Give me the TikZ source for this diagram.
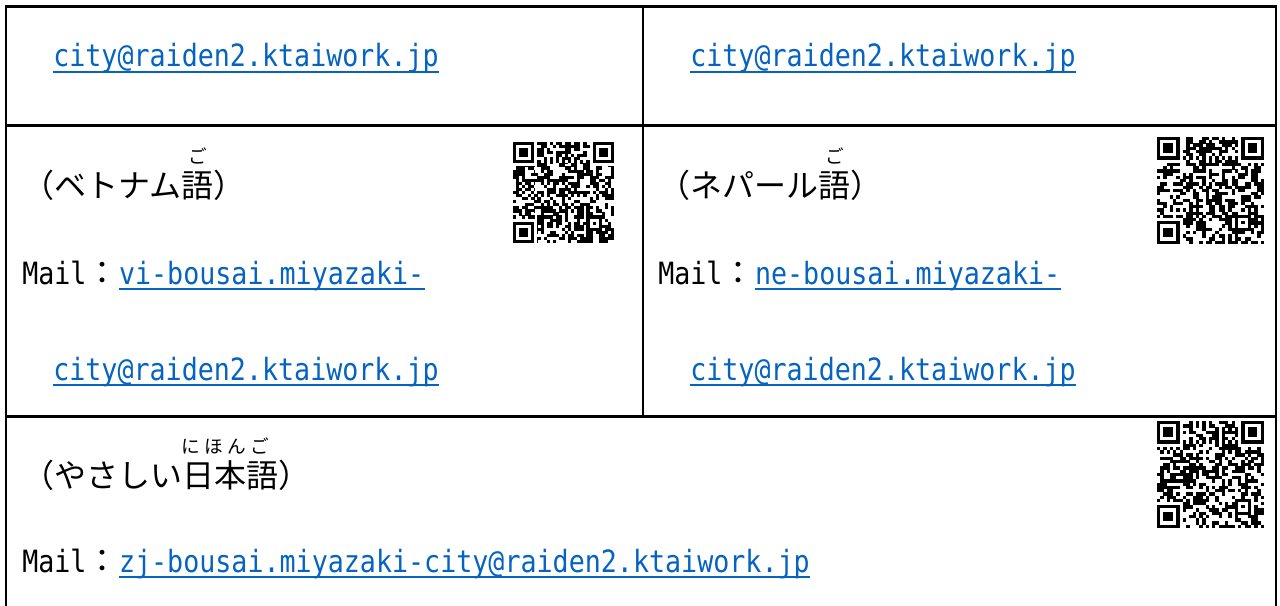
\documentclass[tikz,border=0pt]{standalone}
\usepackage{fontspec}
\setmainfont{Noto Sans CJK JP}
\newfontfamily\jpfont{Noto Sans CJK JP}
\newfontfamily\lat[FakeStretch=0.87]{DejaVu Sans Mono}
\definecolor{linkblue}{RGB}{5,99,193}
\newcommand\linkline[1]{\draw[ul] ([yshift=-3.8pt]#1.base west) -- ([yshift=-3.8pt]#1.base east);}
\newcommand\qrcode[4]{%
  \begin{scope}[shift={(#1,#2)}, scale=#3]
    \pgfmathsetseed{#4}
    \foreach \i in {0,...,32}{
      \foreach \j in {0,...,32}{
        \pgfmathrandominteger{\r}{0}{1}
        \ifnum\r=1 \fill (\i,\j) rectangle ++(1.04,1.04); \fi
      }}
    % finder patterns
    \fill[white] (0,0) rectangle (8,8);
    \fill (0,0) rectangle (7,7); \fill[white] (1,1) rectangle (6,6); \fill (2,2) rectangle (5,5);
    \fill[white] (25,0) rectangle (33,8);
    \fill (26,0) rectangle (33,7); \fill[white] (27,1) rectangle (32,6); \fill (28,2) rectangle (31,5);
    \fill[white] (0,25) rectangle (8,33);
    \fill (0,26) rectangle (7,33); \fill[white] (1,27) rectangle (6,32); \fill (2,28) rectangle (5,31);
    % alignment pattern
    \fill (24,24) rectangle (29,29); \fill[white] (25,25) rectangle (28,28); \fill (26,26) rectangle (27,27);
    % timing patterns
    \foreach \k in {8,...,24}{
      \pgfmathtruncatemacro\odd{mod(\k,2)}
      \ifnum\odd=0 \fill (\k,6) rectangle ++(1,1); \fill (6,\k) rectangle ++(1,1);
      \else \fill[white] (\k,6) rectangle ++(1,1); \fill[white] (6,\k) rectangle ++(1,1); \fi
    }
  \end{scope}}
\begin{document}
\begin{tikzpicture}[x=0.75pt,y=-0.75pt,
  grid/.style={line width=1.9pt, line join=miter},
  jp/.style={inner sep=0pt, anchor=base west, font=\fontsize{24pt}{28pt}\jpfont},
  ruby/.style={inner sep=0pt, font=\fontsize{14pt}{16pt}\jpfont},
  lbl/.style={inner sep=0pt, anchor=base west, font=\fontsize{23pt}{28pt}\lat},
  link/.style={lbl, text=linkblue},
  ul/.style={draw=linkblue, line width=1.6pt}]
\useasboundingbox (0,0) rectangle (1280,606);
\fill[white] (0,0) rectangle (1280,606);

% table rules
\draw[grid] (6,610) -- (6,6.5) -- (1276,6.5) -- (1276,610);
\draw[grid] (6,125.7) -- (1276,125.7);
\draw[grid] (6,416.3) -- (1276,416.3);
\draw[grid] (643,6.5) -- (643,416.3);

% row 1
\node[link] (a1) at (53,67) {city@raiden2.ktaiwork.jp};
\linkline{a1}
\node[link] (b1) at (690,67) {city@raiden2.ktaiwork.jp};
\linkline{b1}

% row 2 left: Vietnamese
\node[jp] (vt) at (22,197) {（ベトナム語）};
\node[ruby] (vr) at (198,156) {ご};
\node[lbl] (vm) at (22,284) {Mail{\fontsize{24pt}{28pt}\jpfont ：}};
\node[link] (vl1) at (vm.base east) {vi-bousai.miyazaki-};
\linkline{vl1}
\node[link] (vl2) at (53,380) {city@raiden2.ktaiwork.jp};
\linkline{vl2}
\qrcode{513}{142}{3.06}{11}

% row 2 right: Nepali
\node[jp] (nt) at (658,197) {（ネパール語）};
\node[ruby] (nr) at (835,156) {ご};
\node[lbl] (nm) at (658,284) {Mail{\fontsize{24pt}{28pt}\jpfont ：}};
\node[link] (nl1) at (nm.base east) {ne-bousai.miyazaki-};
\linkline{nl1}
\node[link] (nl2) at (690,380) {city@raiden2.ktaiwork.jp};
\linkline{nl2}
\qrcode{1157}{137}{3.24}{23}

% row 3: easy Japanese
\node[jp] (et) at (22,487) {（やさしい日本語）};
\node[ruby] (er) at (225,446) {\makebox[66pt][s]{に\hfill ほ\hfill ん\hfill ご}};
\node[lbl] (em) at (22,572) {Mail{\fontsize{24pt}{28pt}\jpfont ：}};
\node[link] (el) at (em.base east) {zj-bousai.miyazaki-city@raiden2.ktaiwork.jp};
\linkline{el}
\qrcode{1157}{421}{3.24}{37}
\end{tikzpicture}
\end{document}
